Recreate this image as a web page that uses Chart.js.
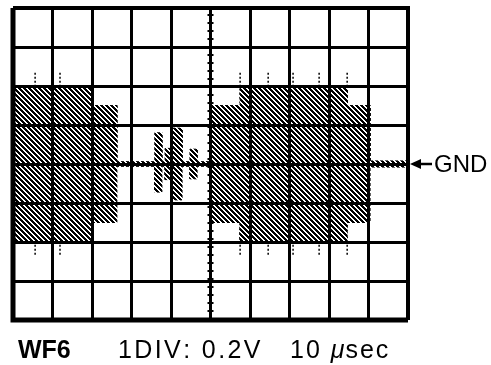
<!DOCTYPE html>
<html>
<head>
<meta charset="utf-8">
<script src="https://cdn.jsdelivr.net/npm/chart.js@4.4.0/dist/chart.umd.min.js"></script>
<style>
  body { margin: 0; background: #fff; }
  #wrap { width: 491px; height: 365px; }
</style>
</head>
<body>
<div id="wrap"><canvas id="scope" width="491" height="365"></canvas></div>
<script>
// envelope of the trace, in divisions (x: 0..10, y: -4..4); each value holds until the next x
const stepX = [0, 1.97, 2.63, 3.59, 3.77, 3.85, 3.97, 4.03, 4.28, 4.48, 4.66, 4.98, 5.75, 8.46, 9.04, 10];
const upper = [2.0, 1.5, 0.06, 0.8, 0.06, 0.4, 0.06, 0.92, 0.06, 0.38, 0.06, 1.5, 2.0, 1.5, 0.08, 0.08];
const lower = [-2.0, -1.5, -0.06, -0.72, -0.06, -0.4, -0.06, -0.92, -0.06, -0.38, -0.06, -1.5, -2.0, -1.5, -0.08, -0.08];

// thin glitch spikes sticking out of the envelope
const spikeX = [0.56, 1.19, 5.75, 6.46, 7.09, 7.75, 8.46];
const spikeTop = 2.36;
const spikeBottom = -2.33;

// labels
const caption = ['WF6', '1DIV: 0.2V', '10 ', '\u03bc', 'sec'];
const gndLabel = 'GND';

// hatch pattern for the trace
const pc = document.createElement('canvas');
pc.width = 5; pc.height = 5;
const pctx = pc.getContext('2d');
pctx.fillStyle = '#fff';
pctx.fillRect(0, 0, 5, 5);
pctx.fillStyle = '#000';
for (let y = 0; y < 5; y++) {
  for (let x = 0; x < 5; x++) {
    const d = ((x - y) % 5 + 5) % 5;
    if (d < 3) pctx.fillRect(x, y, 1, 1);
  }
}
const hatch = document.getElementById('scope').getContext('2d').createPattern(pc, 'repeat');

// turn step arrays into corner points (value holds until next x)
function steps(xs, ys) {
  const pts = [];
  for (let i = 0; i < xs.length - 1; i++) {
    pts.push({ x: xs[i], y: ys[i] }, { x: xs[i + 1], y: ys[i] });
  }
  return pts;
}

const spikePts = [];
spikeX.forEach(x => {
  spikePts.push({ x: x, y: spikeBottom }, { x: x, y: spikeTop }, { x: x, y: null });
});

// draw text with a little extra tracking, returns end x
function spread(c, txt, x, y, gap) {
  let cx = x;
  for (const ch of txt) {
    c.fillText(ch, cx, y);
    cx += c.measureText(ch).width + gap;
  }
  return cx;
}

const FONT = '"Liberation Sans", Arial, sans-serif';

// heavy frame round the graticule
const frame = {
  id: 'frame',
  afterDraw(chart) {
    const c = chart.ctx;
    const a = chart.chartArea;
    c.save();
    c.strokeStyle = '#000';
    c.lineWidth = 5;
    c.beginPath();
    c.moveTo(a.left, a.top);
    c.lineTo(a.left, a.bottom);
    c.lineTo(a.right, a.bottom);
    c.stroke();
    c.lineWidth = 4;
    c.beginPath();
    c.moveTo(a.left, a.top);
    c.lineTo(a.right, a.top);
    c.lineTo(a.right, a.bottom);
    c.stroke();
    c.restore();
  }
};

// oscilloscope labels + GND marker
const scopeText = {
  id: 'scopeText',
  afterDraw(chart) {
    const c = chart.ctx;
    const ya = chart.scales.y;
    const xa = chart.scales.x;
    const gy = ya.getPixelForValue(0);
    c.save();
    c.fillStyle = '#000';
    c.strokeStyle = '#000';
    // GND arrow
    c.lineWidth = 2.5;
    c.beginPath();
    c.moveTo(xa.right + 24, gy);
    c.lineTo(xa.right + 8, gy);
    c.stroke();
    c.beginPath();
    c.moveTo(xa.right + 2, gy);
    c.lineTo(xa.right + 13, gy - 5);
    c.lineTo(xa.right + 13, gy + 5);
    c.closePath();
    c.fill();
    c.font = '24px ' + FONT;
    c.textBaseline = 'middle';
    c.fillText(gndLabel, xa.right + 26, gy + 1);
    // caption
    c.textBaseline = 'alphabetic';
    c.font = 'bold 25px ' + FONT;
    c.fillText(caption[0], 18, 358);
    c.font = '25px ' + FONT;
    spread(c, caption[1], 118, 358, 2.4);
    let x = spread(c, caption[2], 290, 358, 2);
    c.font = 'italic 25px ' + FONT;
    x = spread(c, caption[3], x, 358, 1);
    c.font = '25px ' + FONT;
    spread(c, caption[4], x, 358, 2);
    c.restore();
  }
};

new Chart(document.getElementById('scope'), {
  type: 'line',
  data: {
    datasets: [
      {
        data: steps(stepX, upper),
        borderColor: hatch,
        borderWidth: 1,
        backgroundColor: hatch,
        fill: '+1',
        pointRadius: 0
      },
      {
        data: steps(stepX, lower),
        borderColor: hatch,
        borderWidth: 1,
        fill: false,
        pointRadius: 0
      },
      {
        data: spikePts,
        borderColor: '#000',
        borderWidth: 1.5,
        borderDash: [2, 2],
        spanGaps: false,
        fill: false,
        pointRadius: 0
      },
      {
        // beaded centre axes
        data: [{ x: 5, y: -4 }, { x: 5, y: 4 }],
        borderColor: '#000',
        borderWidth: 6,
        borderDash: [2, 6],
        fill: false,
        pointRadius: 0
      },
      {
        data: [{ x: 0, y: 0 }, { x: 10, y: 0 }],
        borderColor: '#000',
        borderWidth: 5,
        borderDash: [2, 6],
        fill: false,
        pointRadius: 0
      }
    ]
  },
  options: {
    responsive: false,
    animation: false,
    devicePixelRatio: 1,
    layout: { padding: { left: 13, top: 8, right: 83, bottom: 45 } },
    plugins: { legend: { display: false }, tooltip: { enabled: false } },
    scales: {
      x: {
        type: 'linear',
        min: 0,
        max: 10,
        ticks: { display: false, stepSize: 1 },
        grid: { color: '#000', lineWidth: 3, drawTicks: false, z: 1 },
        border: { display: false }
      },
      y: {
        type: 'linear',
        min: -4,
        max: 4,
        ticks: { display: false, stepSize: 1 },
        grid: { color: '#000', lineWidth: 3, drawTicks: false, z: 1 },
        border: { display: false }
      }
    }
  },
  plugins: [frame, scopeText]
});
</script>
</body>
</html>
